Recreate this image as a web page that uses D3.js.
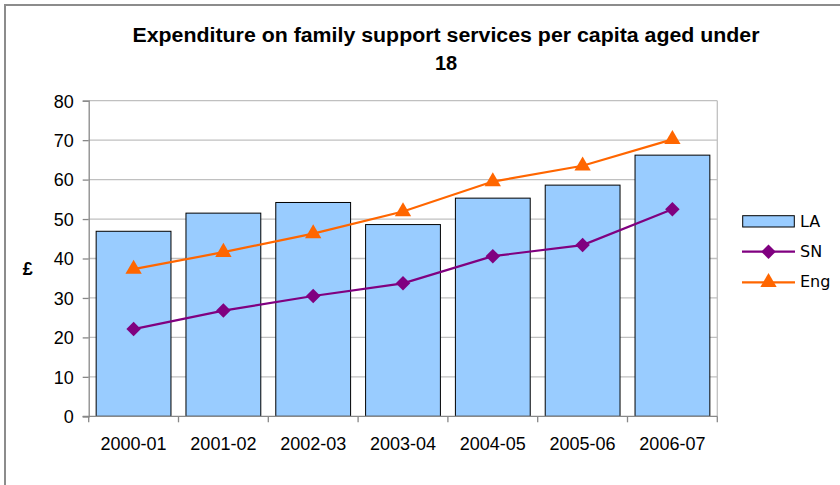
<!DOCTYPE html>
<html><head><meta charset="utf-8">
<script src="https://cdn.jsdelivr.net/npm/d3@7"></script>
<style>body{margin:0;background:#fff}svg{display:block;font-family:"Liberation Sans",Arial,sans-serif}</style>
</head><body><svg id="c" width="840" height="485"></svg>
<script>
const categories = ["2000-01","2001-02","2002-03","2003-04","2004-05","2005-06","2006-07"];
const laValues  = [46.9, 51.5, 54.2, 48.6, 55.3, 58.6, 66.2];
const snValues  = [22.1, 26.8, 30.5, 33.7, 40.6, 43.4, 52.5];
const engValues = [37.3, 41.6, 46.3, 51.9, 59.5, 63.5, 70.2];
const yTicks = [0,10,20,30,40,50,60,70,80];
const titleLines = ["Expenditure on family support services per capita aged under","18"];

const svg = d3.select("#c");
const m = {l:88.7, r:717.3, t:100.7, b:416.3};
const x = d3.scaleBand().domain(categories).range([m.l, m.r]).paddingInner(0.167).paddingOuter(0.083);
const xc = d3.scaleBand().domain(categories).range([m.l, m.r]);
const y = d3.scaleLinear().domain([0,80]).range([m.b, m.t]);

// outer frame
svg.append("rect").attr("x",5).attr("y",5).attr("width",850).attr("height",500)
  .attr("fill","none").attr("stroke","#8c8c8c").attr("stroke-width",2);

// title
const tt = svg.append("g").selectAll("text").data(titleLines).join("text")
  .attr("x",446).attr("y",(d,i)=>42.3+i*27.5).attr("text-anchor","middle")
  .attr("font-weight","bold").attr("font-size","20px").attr("fill","#000").text(d=>d);
tt.filter((d,i)=>i===0).attr("textLength",627).attr("lengthAdjust","spacingAndGlyphs");

// gridlines
svg.append("g").selectAll("line").data(yTicks.slice(1)).join("line")
  .attr("x1",m.l).attr("x2",m.r).attr("y1",d=>y(d)).attr("y2",d=>y(d))
  .attr("stroke","#c0c0c0").attr("stroke-width",1.3);
svg.append("line").attr("x1",m.r).attr("x2",m.r).attr("y1",m.t).attr("y2",m.b)
  .attr("stroke","#c0c0c0").attr("stroke-width",1.3);

// bars
svg.append("g").selectAll("rect").data(laValues).join("rect")
  .attr("x",(d,i)=>x(categories[i])).attr("width",x.bandwidth())
  .attr("y",d=>y(d)).attr("height",d=>y(0)-y(d))
  .attr("fill","#99ccff").attr("stroke","#000").attr("stroke-width",1);

// axes
const yAxis = d3.axisLeft(y).tickValues(yTicks).tickSize(6).tickPadding(9);
const gy = svg.append("g").attr("transform",`translate(${m.l},0)`).call(yAxis);
gy.attr("font-size",null).attr("font-family",null);
gy.select(".domain").attr("stroke","#888").attr("stroke-width",1.3);
gy.selectAll(".tick line").attr("stroke","#888").attr("stroke-width",1.3);
gy.selectAll("text").style("font-size","18px").attr("fill","#000").attr("dy","0.35em");

const gx = svg.append("g").attr("transform",`translate(0,${m.b})`);
gx.append("line").attr("x1",m.l-6).attr("x2",m.r).attr("y1",0).attr("y2",0).attr("stroke","#888").attr("stroke-width",1.3);
const bounds = categories.map(c=>xc(c)).concat([m.r]);
gx.selectAll("line.tk").data(bounds).join("line").attr("class","tk")
  .attr("x1",d=>d).attr("x2",d=>d).attr("y1",0).attr("y2",6).attr("stroke","#888").attr("stroke-width",1.3);
gx.selectAll("text").data(categories).join("text")
  .attr("x",d=>xc(d)+xc.bandwidth()/2).attr("y",33.7).attr("text-anchor","middle")
  .style("font-size","18px").attr("fill","#000").text(d=>d);

// y label
svg.append("text").attr("x",27.7).attr("y",275).attr("text-anchor","middle")
  .attr("font-weight","bold").style("font-size","18px").text("£");

const cx = i => xc(categories[i]) + xc.bandwidth()/2;
const line = d3.line().x((d,i)=>cx(i)).y(d=>y(d));

// SN
svg.append("path").datum(snValues).attr("d",line).attr("fill","none").attr("stroke","#800080").attr("stroke-width",2.2);
const diamond = d3.symbol().type(d3.symbolSquare).size(105);
svg.append("g").selectAll("path").data(snValues).join("path")
  .attr("d",diamond()).attr("transform",(d,i)=>`translate(${cx(i)},${y(d)}) rotate(45)`).attr("fill","#800080");

// Eng
svg.append("path").datum(engValues).attr("d",line).attr("fill","none").attr("stroke","#ff6600").attr("stroke-width",2.2);
const tri = d3.symbol().type(d3.symbolTriangle).size(115);
svg.append("g").selectAll("path").data(engValues).join("path")
  .attr("d",tri()).attr("transform",(d,i)=>`translate(${cx(i)},${y(d)})`).attr("fill","#ff6600");

// legend
const lg = svg.append("g");
lg.append("rect").attr("x",742.7).attr("y",215.7).attr("width",51.6).attr("height",11.3)
  .attr("fill","#99ccff").attr("stroke","#000").attr("stroke-width",1);
lg.append("line").attr("x1",742).attr("x2",795).attr("y1",251.7).attr("y2",251.7).attr("stroke","#800080").attr("stroke-width",2.2);
lg.append("path").attr("d",diamond()).attr("transform","translate(768.5,251.7) rotate(45)").attr("fill","#800080");
lg.append("line").attr("x1",742).attr("x2",795).attr("y1",282.3).attr("y2",282.3).attr("stroke","#ff6600").attr("stroke-width",2.2);
lg.append("path").attr("d",tri()).attr("transform","translate(768.5,282.3)").attr("fill","#ff6600");
lg.selectAll("text").data(["LA","SN","Eng"]).join("text")
  .attr("x",800).attr("y",(d,i)=>[226.7,256.7,287][i])
  .style("font-size","16px").style("font-family","DejaVu Sans, sans-serif").text(d=>d);
</script></body></html>
